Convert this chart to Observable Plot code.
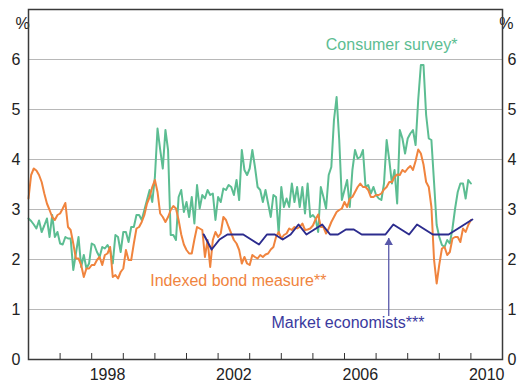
<!DOCTYPE html>
<html>
<head>
<meta charset="utf-8">
<script src="https://cdn.jsdelivr.net/npm/d3@7"></script>
<script src="https://cdn.jsdelivr.net/npm/@observablehq/plot@0.6"></script>
<style>
  html, body { margin: 0; padding: 0; background: #fff; }
  svg { display: block; }
</style>
</head>
<body>
<div id="chart"></div>
<script>
// Monthly series, starting January 1996
const startYear = 1996;
const consumerSurvey = [
  2.82, 2.77, 2.70, 2.62, 2.78, 2.55, 2.68, 2.82, 2.45, 2.89, 2.45, 2.55,
  2.32, 2.30, 2.45, 2.42, 2.42, 1.79, 2.12, 2.45, 1.85, 2.09, 1.82, 1.92,
  2.32, 2.29, 2.15, 2.05, 2.25, 2.22, 2.29, 2.19, 1.92, 2.49, 2.45, 2.15,
  2.55, 2.55, 2.35, 2.65, 2.65, 2.89, 2.89, 2.79, 2.99, 3.19, 3.39, 3.15,
  3.65, 4.62, 4.20, 3.82, 4.59, 4.19, 2.49, 2.49, 2.39, 3.25, 3.39, 2.95,
  3.15, 2.85, 3.25, 2.72, 3.49, 3.02, 3.29, 3.22, 3.39, 3.29, 3.32, 2.79,
  3.25, 3.15, 3.42, 3.39, 3.49, 3.45, 3.29, 3.59, 3.19, 4.19, 3.79, 3.69,
  3.82, 4.19, 3.85, 3.45, 3.39, 3.15, 3.39, 3.12, 2.85, 3.29, 3.25, 2.52,
  3.45, 3.05, 3.22, 3.05, 3.52, 3.15, 3.45, 3.05, 3.45, 2.92, 3.52, 2.85,
  2.89, 2.82, 2.55, 3.45, 3.25, 3.02, 3.69, 3.85, 4.79, 5.25, 4.39, 3.19,
  3.39, 3.59, 3.05, 3.79, 4.19, 4.02, 4.05, 4.19, 3.45, 3.49, 3.32, 3.45,
  3.29, 3.22, 3.19, 3.52, 4.39, 3.99, 3.52, 3.79, 3.12, 4.59, 4.42, 4.12,
  4.42, 4.52, 4.59, 4.29, 5.20, 5.89, 5.89, 4.89, 4.42, 4.39, 3.55, 2.69,
  2.45, 2.29, 2.25, 2.39, 2.32, 2.62, 3.02, 3.35, 3.52, 3.52, 3.22, 3.59,
  3.52
];
const indexedBond = [
  3.22, 3.69, 3.82, 3.78, 3.69, 3.55, 3.32, 3.12, 2.99, 2.85, 2.79, 2.89,
  2.92, 3.02, 3.13, 2.65, 2.59, 2.32, 2.02, 2.02, 1.89, 1.65, 1.82, 1.82,
  1.89, 1.89, 1.99, 2.05, 1.89, 2.09, 2.12, 2.25, 1.65, 1.69, 1.62, 1.75,
  1.82, 2.19, 1.99, 1.99, 2.32, 2.62, 2.65, 2.75, 2.89, 3.12, 3.25, 3.45,
  3.59, 3.35, 2.92, 2.85, 2.75, 2.85, 2.99, 3.07, 3.02, 2.79, 2.50, 2.30,
  2.19, 2.12, 2.12, 2.40, 2.65, 2.62, 2.59, 2.05, 2.39, 1.85, 2.39, 2.55,
  2.45, 2.52, 2.85, 2.79, 2.65, 2.52, 2.39, 2.32, 2.19, 1.92, 2.05, 1.92,
  1.89, 2.09, 2.05, 2.02, 2.09, 2.05, 2.10, 2.12, 2.20, 2.25, 2.45, 2.55,
  2.42, 2.49, 2.52, 2.62, 2.59, 2.65, 2.62, 2.65, 2.72, 2.59, 2.60, 2.62,
  2.68, 2.80, 2.90, 2.65, 2.65, 2.52, 2.62, 2.75, 2.85, 2.95, 2.99, 3.02,
  3.15, 3.05, 3.22, 3.25, 3.35, 3.45, 3.52, 3.45, 3.45, 3.39, 3.25, 3.25,
  3.29, 3.29, 3.32, 3.40, 3.45, 3.55, 3.55, 3.65, 3.70, 3.69, 3.79, 3.75,
  3.82, 3.87, 3.79, 3.97, 4.20, 4.12, 3.90, 3.55, 3.45, 3.05, 2.00, 1.52,
  1.90, 2.22, 2.25, 2.09, 2.15, 2.42, 2.45, 2.45, 2.35, 2.62, 2.55, 2.69,
  2.79
];
// Quarterly series, starting mid-2001
const economistsStart = 2001.545;
const marketEconomists = [
  2.5, 2.2, 2.4, 2.5, 2.5, 2.5, 2.4, 2.3, 2.5, 2.5, 2.4, 2.5,
  2.7, 2.5, 2.6, 2.7, 2.5, 2.5, 2.6, 2.6, 2.5, 2.5, 2.5, 2.5,
  2.7, 2.6, 2.5, 2.7, 2.6, 2.5, 2.5, 2.5, 2.6, 2.7, 2.8
];

const yearTicks = [1997, 1998, 1999, 2000, 2001, 2002, 2003, 2004, 2005, 2006, 2007, 2008, 2009, 2010];
const yearLabels = [1998, 2002, 2006, 2010];
const yTicks = [0, 1, 2, 3, 4, 5, 6];
const gridValues = [1, 2, 3, 4, 5, 6];

const seriesLabels = [
  {text: "Consumer survey*", x: 2007.49, y: 6.29, color: "#5cbd92"},
  {text: "Indexed bond measure**", x: 2002.64, y: 1.57, color: "#f0843e"},
  {text: "Market economists***", x: 2006.11, y: 0.73, color: "#3a3a9e"}
];
const arrowNote = [{x: 2007.40, yFrom: 0.87, yTo: 2.43}];

const colors = {consumer: "#5cbd92", bond: "#f0843e", economists: "#2c2c8e", arrow: "#5858aa"};

const monthly = arr => arr.map((v, i) => ({x: startYear + i / 12, y: v}));
const quarterly = marketEconomists.map((v, i) => ({x: economistsStart + i / 4, y: v}));

const chart = Plot.plot({
  width: 521,
  height: 382,
  marginLeft: 28,
  marginRight: 19,
  marginTop: 9,
  marginBottom: 23,
  style: {fontFamily: "'Liberation Sans', Arial, sans-serif", fontSize: "16px", background: "#fff", color: "#222"},
  x: {domain: [1996, 2011], axis: null, label: null},
  y: {domain: [0, 7], axis: null, label: null},
  marks: [
    Plot.ruleY(gridValues, {stroke: "#b8b8b8", strokeWidth: 1}),
    Plot.axisY(yTicks, {anchor: "left", label: null, tickSize: 0, tickPadding: 8, fontSize: 16, fill: "#222", tickFormat: d => String(d)}),
    Plot.axisY(yTicks, {anchor: "right", label: null, tickSize: 0, tickPadding: 5, fontSize: 16, fill: "#222", tickFormat: d => String(d)}),
    Plot.axisX(yearTicks, {anchor: "bottom", label: null, tickSize: -6, tickFormat: () => "", stroke: "#333"}),
    Plot.axisX(yearLabels.map(d => d + 0.5), {anchor: "bottom", label: null, tickSize: 0, tickPadding: 9, fontSize: 16, fill: "#222", tickFormat: d => String(Math.floor(d))}),
    Plot.text(["%"], {frameAnchor: "top-left", dx: -13, dy: 8, fontSize: 16, fill: "#222"}),
    Plot.text(["%"], {frameAnchor: "top-right", dx: 11, dy: 8, fontSize: 16, fill: "#222"}),
    Plot.line(monthly(consumerSurvey), {x: "x", y: "y", stroke: colors.consumer, strokeWidth: 2}),
    Plot.line(monthly(indexedBond), {x: "x", y: "y", stroke: colors.bond, strokeWidth: 2}),
    Plot.line(quarterly, {x: "x", y: "y", stroke: colors.economists, strokeWidth: 2}),
    Plot.link(arrowNote, {x1: "x", x2: "x", y1: "yFrom", y2: "yTo", stroke: colors.arrow, strokeWidth: 1.3}),
    Plot.dot(arrowNote, {x: "x", y: "yTo", symbol: "triangle", r: 3.1, fill: colors.arrow, stroke: "none", dy: 4.6}),
    Plot.text(seriesLabels, {x: "x", y: "y", text: "text", fill: d => d.color, fontSize: 16, textAnchor: "middle"}),
    Plot.frame({stroke: "#3a3a3a", strokeWidth: 1.5})
  ]
});
document.getElementById("chart").appendChild(chart);
</script>
</body>
</html>
